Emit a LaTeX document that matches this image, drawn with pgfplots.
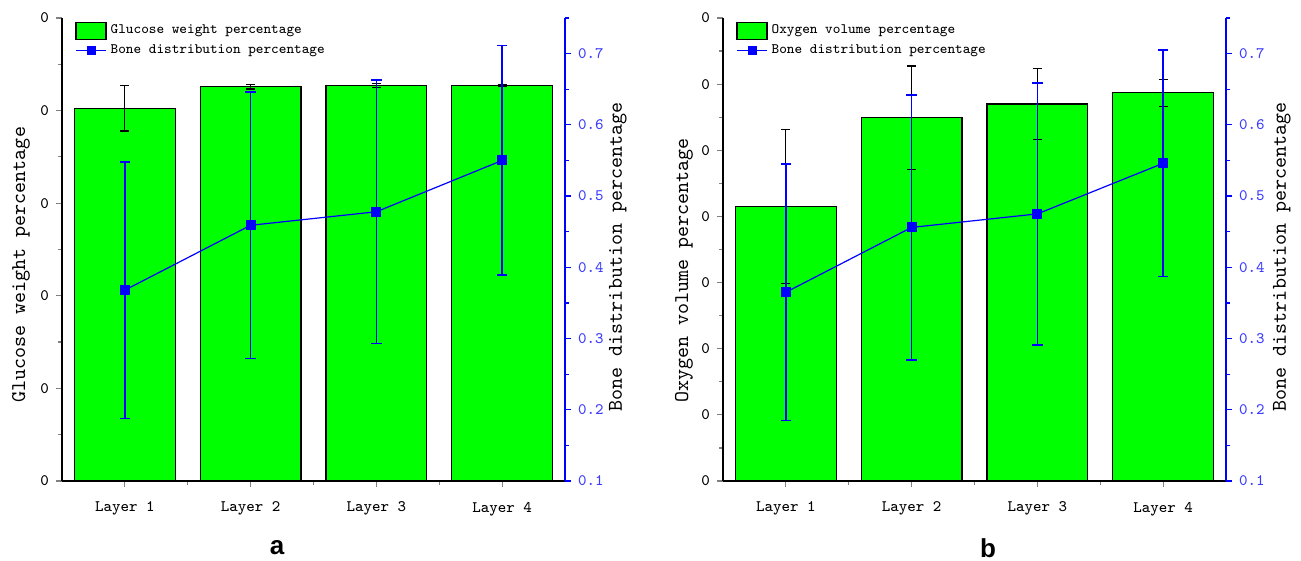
\documentclass[border=0pt]{standalone}
\usepackage{fontspec}
\usepackage{pgfplots}
\pgfplotsset{compat=1.18}
\newfontfamily\arialfont{Liberation Sans}
\definecolor{bargreen}{RGB}{0,255,0}
\definecolor{tickblue}{RGB}{60,60,255}

\pgfplotsset{
  baseaxis/.style={
    scale only axis, width=251.5pt, height=231.5pt,
    xmin=0.5, xmax=4.5, anchor=south west,
    tick align=outside, major tick length=3pt, minor tick length=1.8pt,
    every tick/.append style={line width=0.6pt},
    ticklabel style={font=\ttfamily\fontsize{8}{9}\selectfont},
    /pgf/number format/assume math mode=true,
    clip=false,
  },
  leftaxis/.style={
    baseaxis,
    axis x line*=bottom, axis y line*=left,
    axis line style={line width=0.7pt, black},
    xtick={1,2,3,4}, xticklabels={Layer 1,Layer 2,Layer 3,Layer 4},
    minor xtick={1.5,2.5,3.5},
    xticklabel style={yshift=-4pt},
    ymin=0,
    ylabel style={font=\ttfamily\fontsize{10.5}{12}\selectfont, rotate=0, anchor=center},
    legend style={at={(axis description cs:0.026,0.995)}, anchor=north west,
      draw=none, fill=none, inner sep=0pt,
      font=\ttfamily\fontsize{7.2}{9}\selectfont, row sep=0pt},
    legend cell align=left,
  },
  rightaxis/.style={
    baseaxis,
    axis x line=none, axis y line*=right,
    y axis line style={blue, line width=0.7pt},
    every major y tick/.append style={blue},
    every minor y tick/.append style={blue},
    ymin=0.1, ymax=0.75,
    ytick={0.1,0.2,0.3,0.4,0.5,0.6,0.7},
    yticklabels={0.1,0.2,0.3,0.4,0.5,0.6,0.7},
    minor ytick={0.15,0.25,0.35,0.45,0.55,0.65,0.75},
    yticklabel style={tickblue},
    ylabel={Bone distribution percentage},
    ylabel style={font=\ttfamily\fontsize{10.5}{12}\selectfont, anchor=center},
  },
  barplot/.style={
    ybar, bar width=0.8, fill=bargreen, draw=black, line width=0.6pt,
    legend image code/.code={\draw[fill=bargreen,draw=black,line width=0.6pt] (0pt,-4.25pt) rectangle (15pt,4.25pt);},
    error bars/.cd, y dir=both, y explicit,
    error bar style={black, line width=0.6pt},
    error mark options={rotate=90, mark size=2.25pt, black, line width=0.6pt},
  },
  lineplot/.style={
    blue, line width=0.6pt, mark=square*, mark size=2.2pt,
    mark options={solid, fill=blue},
    error bars/.cd, y dir=both, y explicit,
    error bar style={blue, line width=0.8pt},
    error mark options={rotate=90, mark size=2.6pt, blue, line width=0.7pt},
  },
}

\begin{document}
\begin{tikzpicture}
\useasboundingbox (0,0) rectangle (650.5pt,280.5pt);

% ---------------- panel a ----------------
\begin{axis}[leftaxis, at={(31pt,40pt)},
  ymax=5, ytick={0,1,2,3,4,5}, yticklabels={0,0,0,0,0,0},
  minor ytick={0.5,1.5,2.5,3.5,4.5},
  ylabel style={at={(axis description cs:-0.0815,0.467)}},
  ylabel={Glucose weight percentage}]
\addplot[barplot] coordinates {
  (1,4.025) +- (0,0.245)
  (2,4.258) +- (0,0.025)
  (3,4.273) +- (0,0.02)
  (4,4.273) +- (0,0.01)
};
\addlegendentry{Glucose weight percentage}
\addlegendimage{legend image code/.code={\draw[blue,line width=0.6pt] (0pt,0pt) -- (15pt,0pt); \fill[blue] (5.5pt,-2pt) rectangle (9.5pt,2pt);}}
\addlegendentry{Bone distribution percentage}
\end{axis}
\begin{axis}[rightaxis, at={(31pt,40pt)},
  ylabel style={at={(axis description cs:1.105,0.484)}}]
\addplot[lineplot] coordinates {
  (1,0.368) +- (0,0.180)
  (2,0.459) +- (0,0.187)
  (3,0.478) +- (0,0.185)
  (4,0.550) +- (0,0.161)
};
\end{axis}

% ---------------- panel b ----------------
\begin{axis}[leftaxis, at={(361.5pt,40pt)},
  ymax=7, ytick={0,1,2,3,4,5,6,7}, yticklabels={0,0,0,0,0,0,0,0},
  minor ytick={0.5,1.5,2.5,3.5,4.5,5.5,6.5},
  ylabel style={at={(axis description cs:-0.0774,0.455)}},
  ylabel={Oxygen volume percentage}]
\addplot[barplot] coordinates {
  (1,4.15) +- (0,1.17)
  (2,5.49) +- (0,0.785)
  (3,5.70) +- (0,0.535)
  (4,5.87) +- (0,0.205)
};
\addlegendentry{Oxygen volume percentage}
\addlegendimage{legend image code/.code={\draw[blue,line width=0.6pt] (0pt,0pt) -- (15pt,0pt); \fill[blue] (5.5pt,-2pt) rectangle (9.5pt,2pt);}}
\addlegendentry{Bone distribution percentage}
\end{axis}
\begin{axis}[rightaxis, at={(361.5pt,40pt)},
  ylabel style={at={(axis description cs:1.111,0.484)}}]
\addplot[lineplot] coordinates {
  (1,0.365) +- (0,0.180)
  (2,0.456) +- (0,0.186)
  (3,0.475) +- (0,0.184)
  (4,0.546) +- (0,0.159)
};
\end{axis}

\node[font=\arialfont\bfseries\fontsize{13}{15}\selectfont] at (138.5pt,6.5pt) {a};
\node[font=\arialfont\bfseries\fontsize{13}{15}\selectfont] at (494pt,6.5pt) {b};
\end{tikzpicture}
\end{document}
